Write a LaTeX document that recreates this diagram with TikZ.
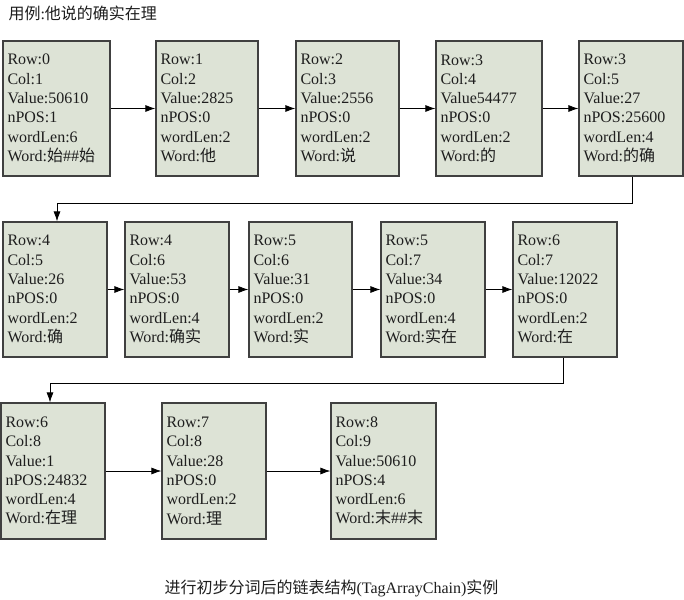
\documentclass[tikz,border=0pt]{standalone}
\usepackage{fontspec}
\setmainfont{Liberation Serif}
\newfontfamily\cjk{Noto Sans CJK SC}
\usetikzlibrary{arrows.meta}
\definecolor{boxfill}{RGB}{221,227,214}
\definecolor{boxline}{RGB}{64,64,64}
\definecolor{txt}{RGB}{30,30,30}
\begin{document}
\begin{tikzpicture}[x=1pt,y=-1pt,
  rec/.style={draw=boxline,line width=1.2pt,fill=boxfill,rectangle,inner xsep=4.5pt,inner ysep=0pt,
    align=left,text=txt,font=\fontsize{16}{19.3}\selectfont,minimum height=135pt},
  link/.style={draw=black,line width=0.8pt,-{Latex[length=10pt,width=7pt]}},
  lbl/.style={anchor=west,text=txt,font=\fontsize{16}{19.3}\selectfont}]
\path[use as bounding box,fill=white] (0,0) rectangle (684,599);
\node[lbl] (title) at (5,13) {{\cjk 用例}:{\cjk 他说的确实在理}};
% row 1
\node[rec,minimum width=107pt,text width=98pt] (b1) at (56.5,108.5) {Row:0\\Col:1\\Value:50610\\nPOS:1\\wordLen:6\\Word:{\cjk 始}\#\#{\cjk 始}};
\node[rec,minimum width=102pt,text width=93pt] (b2) at (207,108.5) {Row:1\\Col:2\\Value:2825\\nPOS:0\\wordLen:2\\Word:{\cjk 他}};
\node[rec,minimum width=103pt,text width=94pt] (b3) at (347.5,108.5) {Row:2\\Col:3\\Value:2556\\nPOS:0\\wordLen:2\\Word:{\cjk 说}};
\node[rec,minimum width=106pt,text width=97pt] (b4) at (489,108.5) {Row:3\\Col:4\\Value54477\\nPOS:0\\wordLen:2\\Word:{\cjk 的}};
\node[rec,minimum width=104pt,text width=95pt] (b5) at (631,108.5) {Row:3\\Col:5\\Value:27\\nPOS:25600\\wordLen:4\\Word:{\cjk 的确}};
% row 2
\node[rec,minimum width=104pt,text width=95pt] (b6) at (55,289.5) {Row:4\\Col:5\\Value:26\\nPOS:0\\wordLen:2\\Word:{\cjk 确}};
\node[rec,minimum width=104pt,text width=95pt] (b7) at (177,289.5) {Row:4\\Col:6\\Value:53\\nPOS:0\\wordLen:4\\Word:{\cjk 确实}};
\node[rec,minimum width=103pt,text width=94pt] (b8) at (300.5,289.5) {Row:5\\Col:6\\Value:31\\nPOS:0\\wordLen:2\\Word:{\cjk 实}};
\node[rec,minimum width=104pt,text width=95pt] (b9) at (433,289.5) {Row:5\\Col:7\\Value:34\\nPOS:0\\wordLen:4\\Word:{\cjk 实在}};
\node[rec,minimum width=104pt,text width=95pt] (b10) at (565,289.5) {Row:6\\Col:7\\Value:12022\\nPOS:0\\wordLen:2\\Word:{\cjk 在}};
% row 3
\node[rec,minimum width=104pt,text width=95pt,minimum height=136pt] (b11) at (53,471) {Row:6\\Col:8\\Value:1\\nPOS:24832\\wordLen:4\\Word:{\cjk 在理}};
\node[rec,minimum width=104pt,text width=95pt,minimum height=136pt] (b12) at (214,471) {Row:7\\Col:8\\Value:28\\nPOS:0\\wordLen:2\\Word:{\cjk 理}};
\node[rec,minimum width=105pt,text width=96pt,minimum height=136pt] (b13) at (383.5,471) {Row:8\\Col:9\\Value:50610\\nPOS:4\\wordLen:6\\Word:{\cjk 末}\#\#{\cjk 末}};
% caption
\node[lbl] (caption) at (161,588) {{\cjk 进行初步分词后的链表结构}(TagArrayChain){\cjk 实例}};
% links
\draw[link] (b1) -- (b2);
\draw[link] (b2) -- (b3);
\draw[link] (b3) -- (b4);
\draw[link] (b4) -- (b5);
\draw[link] ([xshift=1.5pt]b5.south) -- ++(0,27) -| ([xshift=2pt]b6.north);
\draw[link] (b6) -- (b7);
\draw[link] (b7) -- (b8);
\draw[link] (b8) -- (b9);
\draw[link] (b9) -- (b10);
\draw[link] ([xshift=-2pt]b10.south) -- ++(0,26) -| ([xshift=-3pt]b11.north);
\draw[link] (b11) -- (b12);
\draw[link] (b12) -- (b13);
\end{tikzpicture}
\end{document}
